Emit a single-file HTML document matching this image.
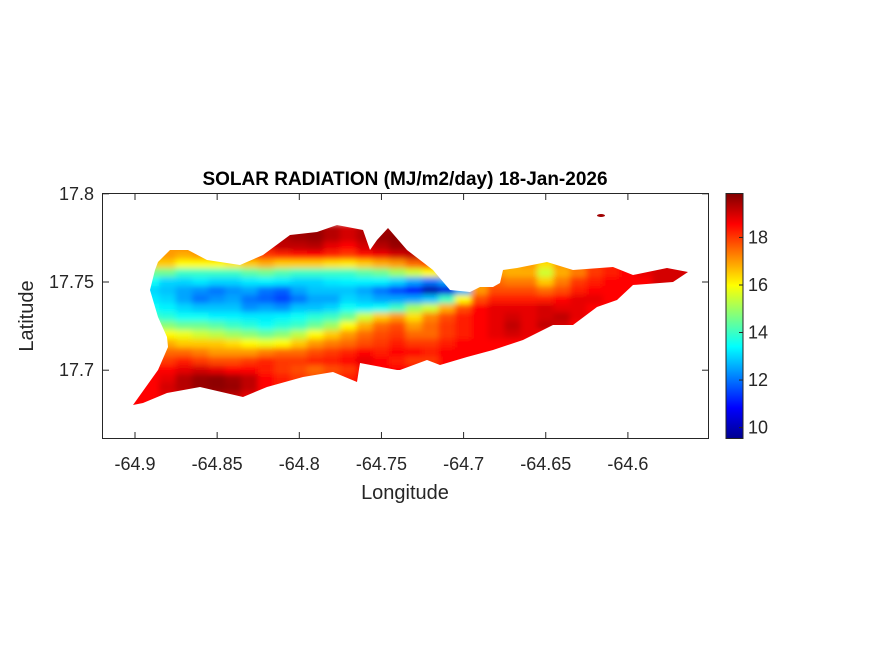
<!DOCTYPE html>
<html><head><meta charset="utf-8"><style>
body{margin:0;background:#fff;}
svg{display:block;font-family:"Liberation Sans",Arial,sans-serif;}
</style></head><body>
<svg id="chart" width="875" height="656" viewBox="0 0 875 656" xmlns="http://www.w3.org/2000/svg">
<defs>
<clipPath id="island"><polygon id="islandPoly" points="133,405 143,403 167,393 200,387 243,397 267,387 303,377 333,372 357,382 360,363 397,370 400,370 427,360 440,365 467,357 493,350 523,340 553,325 573,325 597,307 617,300 633,285 673,282 688,272 667,268 633,275 613,267 573,270 547,262 517,268 503,270 500,283 493,287 480,287 470,292 450,290 433,270 407,250 388,228 377,240 370,250 363,230 337,225 317,232 290,235 263,255 240,265 207,260 188,250 170,250 158,262 155,270 150,290 158,317 167,337 168,347 158,370"/></clipPath>
<filter id="blur" x="-10%" y="-10%" width="120%" height="120%"><feGaussianBlur stdDeviation="3"/></filter>
<linearGradient id="jetGrad" x1="0" y1="1" x2="0" y2="0">
<stop offset="0" stop-color="#00008f"/><stop offset="0.125" stop-color="#0000ff"/><stop offset="0.375" stop-color="#00ffff"/><stop offset="0.625" stop-color="#ffff00"/><stop offset="0.875" stop-color="#ff0000"/><stop offset="1" stop-color="#800000"/>
</linearGradient>
</defs>
<text x="405" y="185" text-anchor="middle" font-size="19" font-weight="bold">SOLAR RADIATION (MJ/m2/day) 18-Jan-2026</text>
<g clip-path="url(#island)"><g id="cells" filter="url(#blur)"></g></g>
<ellipse cx="601" cy="215.5" rx="4" ry="1.5" fill="#a00000"/>
<rect x="102.5" y="193.5" width="606" height="245" fill="none" stroke="#262626" stroke-width="1"/>
<g id="axes"></g>
<text x="405" y="499" text-anchor="middle" font-size="20" fill="#262626">Longitude</text>
<text transform="translate(33,316) rotate(-90)" text-anchor="middle" font-size="20" fill="#262626">Latitude</text>
<rect x="726" y="193.5" width="17" height="245" fill="url(#jetGrad)" stroke="#262626" stroke-width="1"/>
<g id="cbaxes"></g>
</svg>
<script>
const lonStart=-64.90, lonStep=0.01, latStart=17.78, latStep=0.005;
const xTicks=[-64.9,-64.85,-64.8,-64.75,-64.7,-64.65,-64.6];
const xTickLabels=["-64.9","-64.85","-64.8","-64.75","-64.7","-64.65","-64.6"];
const yTicks=[17.7,17.75,17.8];
const yTickLabels=["17.7","17.75","17.8"];
const cTicks=[10,12,14,16,18];
const cMin=9.54, cMax=19.85;
const r00=[17,17,17,17,17.5,18,18.5,19,19.3,19.3,19.5,19.6,19.3,19,19.3,19.5,19.6,19.3,18.5,18.5,18,18,18,18,18,18,18,18,18,18,18,18.5,18.5,18.5,18.5];
const r01=[17,17,17,17,17.5,18,18.5,19,19.3,19.3,19.5,19.6,19.3,19,19.3,19.6,19.7,19.3,18.5,18.5,18,18,18,18,18,18,18,18,18,18,18,18.5,18.5,18.5,18.5];
const r02=[17,17,17,17.2,17.5,18,18.3,18.5,18.8,19.2,19.2,19.3,18.8,18.5,19,19.3,19.6,19.5,18.5,18,17.5,17.5,17.5,17.5,17.5,17.5,17.5,18,18,18,18,18.5,18.5,18.5,18.5];
const r03=[17,17,17,16.8,17,17.2,17.5,17.8,18,18.2,18.4,18.5,18.2,18,18.4,18.7,19,19.2,18.5,18,17.5,17.5,17.3,17,17.2,17,17.5,17.8,18.3,18.5,18.5,18.8,19,19,19];
const r04=[16.5,16.5,16.5,16,16,16,16.2,16.5,16.8,16.5,16.5,16.5,16.3,16.2,16.5,16.8,17,17.5,18,17.5,17,17,16.8,16.8,17,16.3,17,17.5,18,18.3,18.5,18.8,19,19,19];
const r05=[14.5,14.5,14.5,14,14,14,14,14.3,14.5,14.2,14,14,14,14,14.3,14.5,15,15.5,16,16.5,16.8,17,17,16.8,16.8,15.5,16.8,17.3,18,18.3,18.5,18.8,19,19,19];
const r06=[13.5,13.5,13,13,13.2,13,13,13.2,13.3,13.2,13,13,13.2,13.3,13.3,13.3,13,12.5,12,12.5,14,17,17.5,17.3,17.3,16.5,17.3,18,18.3,18.5,18.5,18.5,19,19,19];
const r07=[13,13,12.8,12.5,12.3,12,12.3,12.5,12,11.8,12.5,12.8,12.8,12.8,12.5,12,11.5,10.8,10,10.5,12.5,17,17.8,17.8,17.8,17.5,17.8,18.3,18.5,18.5,18.5,18.5,19,19,19];
const r08=[13.2,13.2,13,12.5,12,12.3,12.5,12,11.8,11.5,12,12.5,12.5,13,12.8,12.5,12.5,12.5,12.8,14,16,17.8,18.3,18.3,18.3,18.3,18.5,18.8,18.8,18.5,18.5,18.5,18.5,18.5,18.5];
const r09=[13.5,13.5,13.3,13,12.8,12.8,12.8,12.3,12.5,12.3,12.8,12.8,13,13.5,13.3,13.5,14,15,15.5,16.8,17.8,18.5,18.8,18.8,18.8,19,18.8,18.8,18.5,18.5,18.5,18.5,18.5,18.5,18.5];
const r10=[14,14,13.8,13.5,13.5,13.3,13.3,13.2,13.2,13.3,13.5,13.8,14,14.5,15.5,16.5,17,16.3,17.2,17.8,18.3,18.5,18.8,19,18.8,19,19.2,18.8,18.5,18.5,18.5,18.5,18.5,18.5,18.5];
const r11=[15,15,14.8,14.5,14.5,14.3,14,13.8,13.5,13.8,14,14.5,15,16,16.8,17.5,17.8,17,17.5,18,18.3,18.5,18.8,19.2,18.8,19.2,19,18.5,18.5,18.5,18.5,18.5,18.5,18.5,18.5];
const r12=[16,16,16,15.8,15.5,15.3,15,14.8,14.5,14.8,15.3,16,16.5,17,17.5,17.8,18,17.5,17.5,18,18.3,18.5,18.8,19,18.8,18.5,18.5,18.5,18.5,18.5,18.5,18.5,18.5,18.5,18.5];
const r13=[16.8,16.8,16.8,16.5,16.5,16.5,16.3,16,15.8,16,16.5,17,17.3,17.5,17.8,18,18.3,18,18,18.3,18.5,18.5,18.5,18.5,18.5,18.5,18.5,18.5,18.5,18.5,18.5,18.5,18.5,18.5,18.5];
const r14=[17.5,17.5,17.5,17.5,17.3,17,17,17,17.3,17.5,17.5,17.8,18,18.2,18.5,18.3,18.5,18.5,18.3,18.5,18.5,18.5,18.5,18.5,18.5,18.5,18.5,18.5,18.5,18.5,18.5,18.5,18.5,18.5,18.5];
const r15=[18,18,18,18.3,18,17.8,17.8,18,18.2,18,18,18.2,18.3,18.5,18.8,18.5,18.3,18,18,18.5,18.5,18.5,18.5,18.5,18.5,18.5,18.5,18.5,18.5,18.5,18.5,18.5,18.5,18.5,18.5];
const r16=[18.5,18.5,18.5,18.8,19,18.8,18.5,18.5,18.3,18,17.8,17.5,17.8,18,18.5,18.5,18.5,18.5,18.5,18.5,18.5,18.5,18.5,18.5,18.5,18.5,18.5,18.5,18.5,18.5,18.5,18.5,18.5,18.5,18.5];
const r17=[18.5,18.5,18.8,19.3,19.6,19.7,19.5,19.2,18.5,18.3,18,17.8,18,18.3,18.5,18.5,18.5,18.5,18.5,18.5,18.5,18.5,18.5,18.5,18.5,18.5,18.5,18.5,18.5,18.5,18.5,18.5,18.5,18.5,18.5];
const r18=[18.5,18.5,19,19.3,19.6,19.7,19.6,19.2,18.5,18.3,18,18,18,18.3,18.5,18.5,18.5,18.5,18.5,18.5,18.5,18.5,18.5,18.5,18.5,18.5,18.5,18.5,18.5,18.5,18.5,18.5,18.5,18.5,18.5];
const r19=[18.5,18.5,18.8,19,19.2,19.3,19.2,18.8,18.5,18.5,18.5,18.5,18.5,18.5,18.5,18.5,18.5,18.5,18.5,18.5,18.5,18.5,18.5,18.5,18.5,18.5,18.5,18.5,18.5,18.5,18.5,18.5,18.5,18.5,18.5];
const r20=[18.5,18.5,18.5,18.8,19,19,19,18.8,18.5,18.5,18.5,18.5,18.5,18.5,18.5,18.5,18.5,18.5,18.5,18.5,18.5,18.5,18.5,18.5,18.5,18.5,18.5,18.5,18.5,18.5,18.5,18.5,18.5,18.5,18.5];
const grid=[r00,r01,r02,r03,r04,r05,r06,r07,r08,r09,r10,r11,r12,r13,r14,r15,r16,r17,r18,r19,r20];

const NS="http://www.w3.org/2000/svg";
function xScale(lon){return 135+(lon+64.9)*1643;}
function yScale(lat){return 282-(lat-17.75)*1764;}
function cScale(v){return 438.5-(v-cMin)/(cMax-cMin)*245;}
function cl(v){return Math.max(0,Math.min(1,v));}
function jet(v){const t=cl((v-cMin)/(cMax-cMin));
 const r=cl(1.5-Math.abs(4*t-3)),g=cl(1.5-Math.abs(4*t-2)),b=cl(1.5-Math.abs(4*t-1));
 return `rgb(${Math.round(r*255)},${Math.round(g*255)},${Math.round(b*255)})`;}
function mk(tag,attrs,parent){const e=document.createElementNS(NS,tag);for(const k in attrs)e.setAttribute(k,attrs[k]);parent.appendChild(e);return e;}

const cells=document.getElementById('cells');
const cw=lonStep*1643, ch=latStep*1764;
grid.forEach((row,i)=>{row.forEach((v,j)=>{
 const lon=lonStart+j*lonStep, lat=latStart-i*latStep;
 const r=mk('rect',{x:xScale(lon)-cw/2-0.5,y:yScale(lat)-ch/2-0.5,width:cw+1,height:ch+1,fill:jet(v)},cells);
 
 
});});

const axes=document.getElementById('axes');
xTicks.forEach((t,i)=>{const x=xScale(t);
 const l=mk('line',{x1:x,x2:x,y1:438,y2:432,stroke:'#262626'},axes);
 
 
 const l2=mk('line',{x1:x,x2:x,y1:194,y2:200,stroke:'#262626'},axes);
 
 
 const tx=mk('text',{x:x,y:470,'text-anchor':'middle','font-size':'18',fill:'#262626'},axes);
 tx.textContent=xTickLabels[i];
 
 
});
yTicks.forEach((t,i)=>{const y=yScale(t);
 const l=mk('line',{x1:103,x2:109,y1:y,y2:y,stroke:'#262626'},axes);
 
 
 const l2=mk('line',{x1:708,x2:702,y1:y,y2:y,stroke:'#262626'},axes);
 
 
 const tx=mk('text',{x:94,y:y+6,'text-anchor':'end','font-size':'18',fill:'#262626'},axes);
 tx.textContent=yTickLabels[i];
 
 
});
const cb=document.getElementById('cbaxes');
cTicks.forEach(t=>{const y=cScale(t);
 const l=mk('line',{x1:739,x2:743,y1:y,y2:y,stroke:'#262626'},cb);
 
 
 const tx=mk('text',{x:748,y:y+6,'font-size':'18',fill:'#262626'},cb);
 tx.textContent=String(t);
 
 
});
</script>
</body></html>
